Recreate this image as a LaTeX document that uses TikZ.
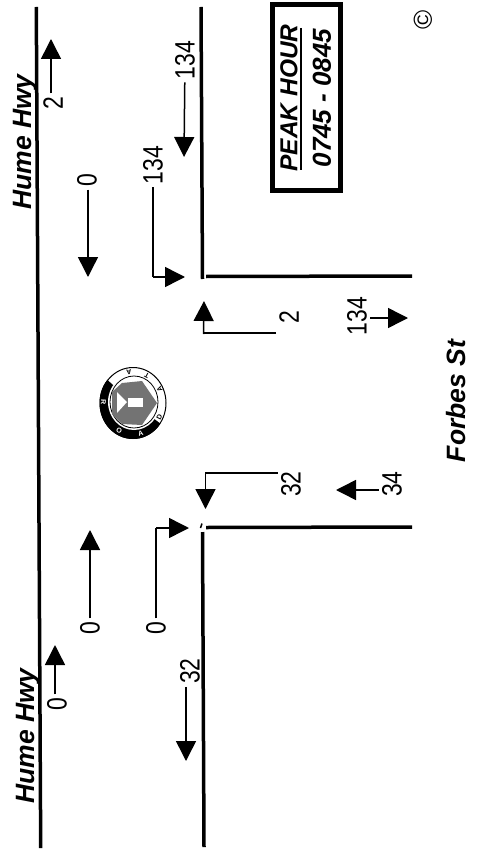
\documentclass[tikz,border=0pt]{standalone}
\usepackage{fontspec}
\usetikzlibrary{arrows.meta,calc}
\setmainfont{Liberation Sans}
\newfontfamily\countfont[FakeStretch=0.82]{Liberation Sans}

\tikzset{
    road/.style={line width=3.5pt},
    stem/.style={line width=1.5pt},
    flow/.style={-{Triangle[length=20pt,width=20pt]}, line width=1.5pt},
    count/.style={rotate=90, inner sep=3pt, font=\fontsize{28}{28}\selectfont\countfont},
    streetname/.style={rotate=90, anchor=base, inner sep=0pt, font=\fontsize{26.5}{26.5}\selectfont\bfseries\itshape},
    peak/.style={rotate=90, inner sep=0pt, font=\fontsize{24.5}{24.5}\selectfont\bfseries\itshape},
    sealtext/.style={inner sep=0pt, font=\fontsize{7}{7}\selectfont\bfseries}
}

\begin{document}
\begin{tikzpicture}[x=1pt,y=-1pt]
    \useasboundingbox (0,0) rectangle (483,850);

    % Draw road edges
    \draw[road] (36.3,7) -- (40.7,848);
    \draw[road] (201,7) -- (202.5,279);
    \draw[road] (206,276.5) -- (412,276);
    \draw[road] (202.5,532) -- (204,847);
    \draw[road] (206,527.5) -- (412,527);
    \draw[stem] (200.5,528) -- (202,523.5);

    % Add road names
    \node[streetname] (humetop) at (31,142) {Hume Hwy};
    \node[streetname] (humebot) at (34,736) {Hume Hwy};
    \node[streetname] (forbes) at (465,401) {Forbes St};

    % Add peak hour box
    \node[draw, line width=5pt, minimum width=186pt, minimum height=68pt, rotate=90] (peakbox) at (306,98) {};
    \node[peak] (peaktitle) at (289,98) {PEAK HOUR};
    \node[peak, font=\fontsize{26}{26}\selectfont\bfseries\itshape] (peaktime) at (322,98) {0745 - 0845};
    \draw[line width=2.5pt] (301,28) -- (301,170);
    \node[rotate=90, inner sep=0pt, font=\fontsize{26}{26}\selectfont] (copyr) at (423,20) {©};

    % Add seal
    \draw[line width=1pt] (133,403) ellipse (33 and 35.5);
    \fill[black] (133,403) -- ++(-140:33.5 and 36) arc[start angle=-140, end angle=-325, x radius=33.5, y radius=36] -- cycle;
    \fill[white] (134,402) ellipse (26 and 28);
    \draw[line width=0.8pt] (134,402) ellipse (24 and 26);
    \fill[black!55] (112,392) -- (122,383) -- (142,381) -- (157,403) -- (142,425) -- (122,424) -- (112,414) -- cycle;
    \fill[white] (128,398) rectangle (143,407);
    \fill[white] (117,392) -- (127,402) -- (117,413) -- cycle;
    \foreach \ang/\ltr/\col in {178/R/white, 242/O/white, 285/A/white, 333/D/black, 25/A/black, 62/T/black, 98/A/black}
    {
        \pgfmathsetmacro{\tilt}{\ang+90}
        \node[sealtext, text=\col, rotate=\tilt] (seal\ang) at ($(133,403)+(-\ang:29.5 and 31.5)$) {\ltr};
    }

    % Add arrows on the top half
    \node[count] (c2a) at (53,103) {2};
    \coordinate (t2a) at (51,39);
    \draw[flow] (t2a |- c2a.east) -- (t2a);

    \node[count] (c0a) at (87,180) {0};
    \coordinate (t0a) at (88,277);
    \draw[flow] (t0a |- c0a.west) -- (t0a);

    \node[count] (c134a) at (153,165) {134};
    \coordinate (t134a) at (185,277);
    \draw[stem] (c134a) -- (t134a -| c134a);
    \draw[flow] (t134a -| c134a) -- (t134a);

    \node[count] (c134b) at (185,60) {134};
    \coordinate (t134b) at (184,157);
    \draw[flow] (c134b) -- (t134b);

    \node[count] (c2b) at (289,317) {2};
    \coordinate (t2b) at (204,301);
    \draw[stem] (c2b.north |- 0,333) -- (203.5,333);
    \draw[flow] (203.5,334) -- (t2b);

    \node[count] (c134c) at (357,316) {134};
    \coordinate (t134c) at (408,318);
    \draw[flow] (c134c.south |- t134c) -- (t134c);

    % Add arrows on the bottom half
    \node[count] (c32a) at (291,484) {32};
    \coordinate (t32a) at (205.5,509);
    \draw[stem] (c32a.north |- 0,473) -- (205.5,473);
    \draw[flow] (205.5,472) -- (t32a);

    \node[count] (c34) at (392,484) {34};
    \coordinate (t34) at (336,490);
    \draw[flow] (c34.north |- t34) -- (t34);

    \node[count] (c0b) at (156,628) {0};
    \coordinate (t0b) at (189,528);
    \draw[stem] (c0b) -- (c0b |- t0b);
    \draw[flow] (c0b |- t0b) -- (t0b);

    \node[count] (c0c) at (90,628) {0};
    \coordinate (t0c) at (90,530);
    \draw[flow] (c0c) -- (t0c);

    \node[count] (c0d) at (57,704) {0};
    \coordinate (t0d) at (55,645);
    \draw[flow] (t0d |- c0d.east) -- (t0d);

    \node[count] (c32b) at (190,671) {32};
    \coordinate (t32b) at (186,761);
    \draw[flow] (t32b |- c32b.west) -- (t32b);
\end{tikzpicture}
\end{document}
